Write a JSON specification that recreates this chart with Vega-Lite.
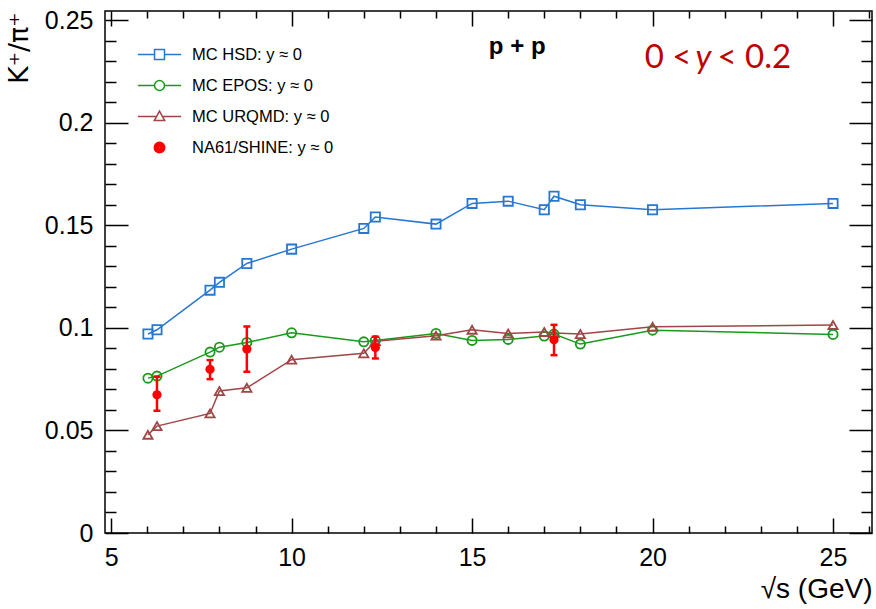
{
  "$schema": "https://vega.github.io/schema/vega-lite/v6.json",
  "width": 767,
  "height": 522,
  "autosize": {"type": "none"},
  "padding": {"left": 105, "top": 11, "right": 4, "bottom": 76},
  "background": "white",
  "config": {
    "view": {"stroke": "black", "strokeWidth": 1.5},
    "axis": {
      "labelFont": "Liberation Sans",
      "labelFontSize": 25,
      "labelColor": "black",
      "titleFont": "Liberation Sans",
      "titleColor": "black",
      "titleFontWeight": "normal",
      "domain": false,
      "grid": false,
      "tickColor": "black",
      "tickWidth": 1.5
    },
    "legend": {
      "orient": "none",
      "legendX": 32,
      "legendY": 21,
      "padding": 0,
      "symbolSize": 1875,
      "symbolStrokeWidth": 1.5,
      "symbolOpacity": 1,
      "labelFont": "Liberation Sans",
      "labelFontSize": 16.5,
      "labelColor": "black",
      "labelOffset": 10,
      "labelLimit": 300,
      "rowPadding": -13
    }
  },
  "datasets": {
    "mc": [
      {"series": "MC HSD: y ≈ 0", "s": 6.02, "r": 0.0970},
      {"series": "MC HSD: y ≈ 0", "s": 6.27, "r": 0.0991},
      {"series": "MC HSD: y ≈ 0", "s": 7.74, "r": 0.1184},
      {"series": "MC HSD: y ≈ 0", "s": 8.0, "r": 0.1222},
      {"series": "MC HSD: y ≈ 0", "s": 8.76, "r": 0.1314},
      {"series": "MC HSD: y ≈ 0", "s": 10.0, "r": 0.1384},
      {"series": "MC HSD: y ≈ 0", "s": 12.0, "r": 0.1485},
      {"series": "MC HSD: y ≈ 0", "s": 12.32, "r": 0.1541},
      {"series": "MC HSD: y ≈ 0", "s": 14.0, "r": 0.1506},
      {"series": "MC HSD: y ≈ 0", "s": 15.0, "r": 0.1607},
      {"series": "MC HSD: y ≈ 0", "s": 16.0, "r": 0.1618},
      {"series": "MC HSD: y ≈ 0", "s": 17.0, "r": 0.1576},
      {"series": "MC HSD: y ≈ 0", "s": 17.27, "r": 0.1642},
      {"series": "MC HSD: y ≈ 0", "s": 18.0, "r": 0.1600},
      {"series": "MC HSD: y ≈ 0", "s": 20.0, "r": 0.1576},
      {"series": "MC HSD: y ≈ 0", "s": 25.0, "r": 0.1607},
      {"series": "MC EPOS: y ≈ 0", "s": 6.02, "r": 0.0755},
      {"series": "MC EPOS: y ≈ 0", "s": 6.27, "r": 0.0765},
      {"series": "MC EPOS: y ≈ 0", "s": 7.74, "r": 0.0882},
      {"series": "MC EPOS: y ≈ 0", "s": 8.0, "r": 0.0906},
      {"series": "MC EPOS: y ≈ 0", "s": 8.76, "r": 0.0929},
      {"series": "MC EPOS: y ≈ 0", "s": 10.0, "r": 0.0976},
      {"series": "MC EPOS: y ≈ 0", "s": 12.0, "r": 0.0932},
      {"series": "MC EPOS: y ≈ 0", "s": 12.32, "r": 0.0939},
      {"series": "MC EPOS: y ≈ 0", "s": 14.0, "r": 0.0973},
      {"series": "MC EPOS: y ≈ 0", "s": 15.0, "r": 0.0939},
      {"series": "MC EPOS: y ≈ 0", "s": 16.0, "r": 0.0944},
      {"series": "MC EPOS: y ≈ 0", "s": 17.0, "r": 0.0960},
      {"series": "MC EPOS: y ≈ 0", "s": 17.27, "r": 0.0970},
      {"series": "MC EPOS: y ≈ 0", "s": 18.0, "r": 0.0921},
      {"series": "MC EPOS: y ≈ 0", "s": 20.0, "r": 0.0989},
      {"series": "MC EPOS: y ≈ 0", "s": 25.0, "r": 0.0968},
      {"series": "MC URQMD: y ≈ 0", "s": 6.02, "r": 0.0479},
      {"series": "MC URQMD: y ≈ 0", "s": 6.27, "r": 0.0521},
      {"series": "MC URQMD: y ≈ 0", "s": 7.74, "r": 0.0583},
      {"series": "MC URQMD: y ≈ 0", "s": 8.0, "r": 0.0692},
      {"series": "MC URQMD: y ≈ 0", "s": 8.76, "r": 0.0708},
      {"series": "MC URQMD: y ≈ 0", "s": 10.0, "r": 0.0845},
      {"series": "MC URQMD: y ≈ 0", "s": 12.0, "r": 0.0876},
      {"series": "MC URQMD: y ≈ 0", "s": 12.32, "r": 0.0935},
      {"series": "MC URQMD: y ≈ 0", "s": 14.0, "r": 0.0962},
      {"series": "MC URQMD: y ≈ 0", "s": 15.0, "r": 0.0991},
      {"series": "MC URQMD: y ≈ 0", "s": 16.0, "r": 0.0973},
      {"series": "MC URQMD: y ≈ 0", "s": 17.0, "r": 0.0980},
      {"series": "MC URQMD: y ≈ 0", "s": 17.27, "r": 0.0975},
      {"series": "MC URQMD: y ≈ 0", "s": 18.0, "r": 0.0970},
      {"series": "MC URQMD: y ≈ 0", "s": 20.0, "r": 0.1005},
      {"series": "MC URQMD: y ≈ 0", "s": 25.0, "r": 0.1014}
    ],
    "na61": [
      {"s": 6.27, "r": 0.0674, "lo": 0.0596, "hi": 0.0762},
      {"s": 7.74, "r": 0.0798, "lo": 0.0750, "hi": 0.0843},
      {"s": 8.76, "r": 0.0897, "lo": 0.0786, "hi": 0.1007},
      {"s": 12.32, "r": 0.0905, "lo": 0.0851, "hi": 0.0957},
      {"s": 17.27, "r": 0.0942, "lo": 0.0867, "hi": 0.1015}
    ],
    "legend": [
      {"series": "MC HSD: y ≈ 0"},
      {"series": "MC EPOS: y ≈ 0"},
      {"series": "MC URQMD: y ≈ 0"},
      {"series": "NA61/SHINE: y ≈ 0"}
    ]
  },
  "layer": [
    {
      "data": {"name": "mc"},
      "mark": {"type": "line", "strokeWidth": 1.5},
      "encoding": {
        "x": {
          "field": "s", "type": "quantitative",
          "scale": {"domain": [4.83, 26.08], "nice": false, "zero": false},
          "axis": {
            "orient": "bottom",
            "values": [5, 10, 15, 20, 25],
            "ticks": false,
            "labelPadding": 12,
            "title": "√s (GeV)",
            "titleFontSize": 28,
            "titleX": 767,
            "titleY": 64,
            "titleAlign": "right",
            "titleBaseline": "alphabetic"
          }
        },
        "y": {
          "field": "r", "type": "quantitative",
          "scale": {"domain": [0, 0.2545], "nice": false, "zero": false},
          "axis": {
            "orient": "left",
            "values": [0, 0.05, 0.1, 0.15, 0.2, 0.25],
            "format": "~g",
            "ticks": false,
            "labelPadding": 12,
            "title": "K⁺/π⁺",
            "titleFont": "DejaVu Sans",
            "titleFontSize": 27,
            "titleAngle": 270,
            "titleX": -78,
            "titleY": 1,
            "titleAlign": "right",
            "titleBaseline": "alphabetic"
          }
        },
        "stroke": {
          "field": "series", "type": "nominal",
          "scale": {"domain": ["MC HSD: y ≈ 0", "MC EPOS: y ≈ 0", "MC URQMD: y ≈ 0"], "range": ["#2677d2", "#1a9a1a", "#a04646"]},
          "legend": null
        }
      }
    },
    {
      "data": {"name": "mc"},
      "transform": [{"filter": "datum.series === 'MC HSD: y ≈ 0'"}],
      "mark": {"type": "point", "shape": "square", "filled": false, "stroke": "#2677d2", "strokeWidth": 1.8, "size": 85, "opacity": 1},
      "encoding": {
        "x": {
          "field": "s", "type": "quantitative",
          "scale": {"domain": [4.83, 26.08], "nice": false, "zero": false},
          "axis": {"orient": "bottom", "values": [5, 10, 15, 20, 25], "labels": false, "title": null, "tickSize": -15}
        },
        "y": {
          "field": "r", "type": "quantitative",
          "scale": {"domain": [0, 0.2545], "nice": false, "zero": false},
          "axis": {"orient": "left", "values": [0, 0.05, 0.1, 0.15, 0.2, 0.25], "labels": false, "title": null, "tickSize": -23}
        }
      }
    },
    {
      "data": {"name": "mc"},
      "transform": [{"filter": "datum.series === 'MC EPOS: y ≈ 0'"}],
      "mark": {"type": "point", "shape": "circle", "filled": false, "stroke": "#1a9a1a", "strokeWidth": 1.8, "size": 85, "opacity": 1},
      "encoding": {
        "x": {
          "field": "s", "type": "quantitative",
          "scale": {"domain": [4.83, 26.08], "nice": false, "zero": false},
          "axis": {"orient": "bottom", "values": [6, 7, 8, 9, 11, 12, 13, 14, 16, 17, 18, 19, 21, 22, 23, 24, 26], "labels": false, "title": null, "tickSize": -7}
        },
        "y": {
          "field": "r", "type": "quantitative",
          "scale": {"domain": [0, 0.2545], "nice": false, "zero": false},
          "axis": {"orient": "left", "values": [0.01, 0.02, 0.03, 0.04, 0.06, 0.07, 0.08, 0.09, 0.11, 0.12, 0.13, 0.14, 0.16, 0.17, 0.18, 0.19, 0.21, 0.22, 0.23, 0.24], "labels": false, "title": null, "tickSize": -11}
        }
      }
    },
    {
      "data": {"name": "mc"},
      "transform": [{"filter": "datum.series === 'MC URQMD: y ≈ 0'"}],
      "mark": {"type": "point", "shape": "triangle-up", "filled": false, "stroke": "#a04646", "strokeWidth": 1.8, "size": 85, "opacity": 1},
      "encoding": {
        "x": {
          "field": "s", "type": "quantitative",
          "scale": {"domain": [4.83, 26.08], "nice": false, "zero": false},
          "axis": {"orient": "top", "values": [5, 10, 15, 20, 25], "labels": false, "title": null, "tickSize": -15}
        },
        "y": {
          "field": "r", "type": "quantitative",
          "scale": {"domain": [0, 0.2545], "nice": false, "zero": false},
          "axis": {"orient": "right", "values": [0, 0.05, 0.1, 0.15, 0.2, 0.25], "labels": false, "title": null, "tickSize": -23}
        }
      }
    },
    {
      "data": {"name": "na61"},
      "mark": {"type": "rule", "color": "#ff0000", "strokeWidth": 2.5},
      "encoding": {
        "x": {
          "field": "s", "type": "quantitative",
          "scale": {"domain": [4.83, 26.08], "nice": false, "zero": false},
          "axis": {"orient": "top", "values": [6, 7, 8, 9, 11, 12, 13, 14, 16, 17, 18, 19, 21, 22, 23, 24, 26], "labels": false, "title": null, "tickSize": -7}
        },
        "y": {
          "field": "lo", "type": "quantitative",
          "scale": {"domain": [0, 0.2545], "nice": false, "zero": false},
          "axis": {"orient": "right", "values": [0.01, 0.02, 0.03, 0.04, 0.06, 0.07, 0.08, 0.09, 0.11, 0.12, 0.13, 0.14, 0.16, 0.17, 0.18, 0.19, 0.21, 0.22, 0.23, 0.24], "labels": false, "title": null, "tickSize": -11}
        },
        "y2": {"field": "hi"}
      }
    },
    {
      "data": {"name": "na61"},
      "mark": {"type": "tick", "orient": "horizontal", "color": "#ff0000", "size": 7, "thickness": 2.5, "opacity": 1},
      "encoding": {
        "x": {"field": "s", "type": "quantitative", "scale": {"domain": [4.83, 26.08], "nice": false, "zero": false}, "axis": null},
        "y": {"field": "lo", "type": "quantitative", "scale": {"domain": [0, 0.2545], "nice": false, "zero": false}, "axis": null}
      }
    },
    {
      "data": {"name": "na61"},
      "mark": {"type": "tick", "orient": "horizontal", "color": "#ff0000", "size": 7, "thickness": 2.5, "opacity": 1},
      "encoding": {
        "x": {"field": "s", "type": "quantitative", "scale": {"domain": [4.83, 26.08], "nice": false, "zero": false}, "axis": null},
        "y": {"field": "hi", "type": "quantitative", "scale": {"domain": [0, 0.2545], "nice": false, "zero": false}, "axis": null}
      }
    },
    {
      "data": {"name": "na61"},
      "mark": {"type": "point", "filled": true, "shape": "circle", "color": "#ff0000", "size": 85, "opacity": 1},
      "encoding": {
        "x": {"field": "s", "type": "quantitative", "scale": {"domain": [4.83, 26.08], "nice": false, "zero": false}, "axis": null},
        "y": {"field": "r", "type": "quantitative", "scale": {"domain": [0, 0.2545], "nice": false, "zero": false}, "axis": null}
      }
    },
    {
      "data": {"name": "legend"},
      "mark": {"type": "point", "filled": false, "opacity": 0, "strokeWidth": 1.5},
      "encoding": {
        "color": {
          "field": "series", "type": "nominal", "sort": null,
          "scale": {"domain": ["MC HSD: y ≈ 0", "MC EPOS: y ≈ 0", "MC URQMD: y ≈ 0", "NA61/SHINE: y ≈ 0"], "range": ["#2677d2", "#1a9a1a", "#a04646", "#ff0000"]},
          "legend": {"title": null}
        },
        "shape": {
          "field": "series", "type": "nominal", "sort": null,
          "scale": {"domain": ["MC HSD: y ≈ 0", "MC EPOS: y ≈ 0", "MC URQMD: y ≈ 0", "NA61/SHINE: y ≈ 0"], "range": [
            "M-1,0H-0.23M0.23,0H1M-0.23,-0.23H0.23V0.23H-0.23Z",
            "M-1,0H-0.23M0.23,0H1M-0.23,0A0.23,0.23,0,1,0,0.23,0A0.23,0.23,0,1,0,-0.23,0Z",
            "M-1,0H-0.13M0.13,0H1M0,-0.25L0.24,0.19L-0.24,0.19Z",
            "M-0.24,0A0.24,0.24,0,1,0,0.24,0A0.24,0.24,0,1,0,-0.24,0ZM-0.18,0A0.18,0.18,0,1,0,0.18,0A0.18,0.18,0,1,0,-0.18,0ZM-0.12,0A0.12,0.12,0,1,0,0.12,0A0.12,0.12,0,1,0,-0.12,0ZM-0.06,0A0.06,0.06,0,1,0,0.06,0A0.06,0.06,0,1,0,-0.06,0ZM-0.02,0A0.02,0.02,0,1,0,0.02,0A0.02,0.02,0,1,0,-0.02,0Z"
          ]},
          "legend": {"title": null}
        }
      }
    },
    {
      "data": {"values": [{}]},
      "mark": {"type": "text", "font": "Liberation Sans", "fontSize": 24, "fontWeight": "bold", "color": "black", "align": "center", "baseline": "middle"},
      "encoding": {
        "x": {"datum": 16.25, "type": "quantitative", "scale": {"domain": [4.83, 26.08], "nice": false, "zero": false}, "axis": null},
        "y": {"datum": 0.237, "type": "quantitative", "scale": {"domain": [0, 0.2545], "nice": false, "zero": false}, "axis": null},
        "text": {"value": "p + p"}
      }
    },
    {
      "data": {"values": [{}]},
      "mark": {"type": "text", "font": "Lato", "fontSize": 33, "color": "#c00000", "align": "right", "baseline": "middle", "dx": -12},
      "encoding": {
        "x": {"datum": 21.41, "type": "quantitative", "scale": {"domain": [4.83, 26.08], "nice": false, "zero": false}, "axis": null},
        "y": {"datum": 0.2318, "type": "quantitative", "scale": {"domain": [0, 0.2545], "nice": false, "zero": false}, "axis": null},
        "text": {"value": "0 <"}
      }
    },
    {
      "data": {"values": [{}]},
      "mark": {"type": "text", "font": "Lato", "fontSize": 33, "fontStyle": "italic", "color": "#c00000", "align": "center", "baseline": "middle"},
      "encoding": {
        "x": {"datum": 21.41, "type": "quantitative", "scale": {"domain": [4.83, 26.08], "nice": false, "zero": false}, "axis": null},
        "y": {"datum": 0.2318, "type": "quantitative", "scale": {"domain": [0, 0.2545], "nice": false, "zero": false}, "axis": null},
        "text": {"value": "y"}
      }
    },
    {
      "data": {"values": [{}]},
      "mark": {"type": "text", "font": "Lato", "fontSize": 33, "color": "#c00000", "align": "left", "baseline": "middle", "dx": 14},
      "encoding": {
        "x": {"datum": 21.41, "type": "quantitative", "scale": {"domain": [4.83, 26.08], "nice": false, "zero": false}, "axis": null},
        "y": {"datum": 0.2318, "type": "quantitative", "scale": {"domain": [0, 0.2545], "nice": false, "zero": false}, "axis": null},
        "text": {"value": "< 0.2"}
      }
    }
  ],
  "resolve": {
    "axis": {"x": "independent", "y": "independent"}
  }
}
